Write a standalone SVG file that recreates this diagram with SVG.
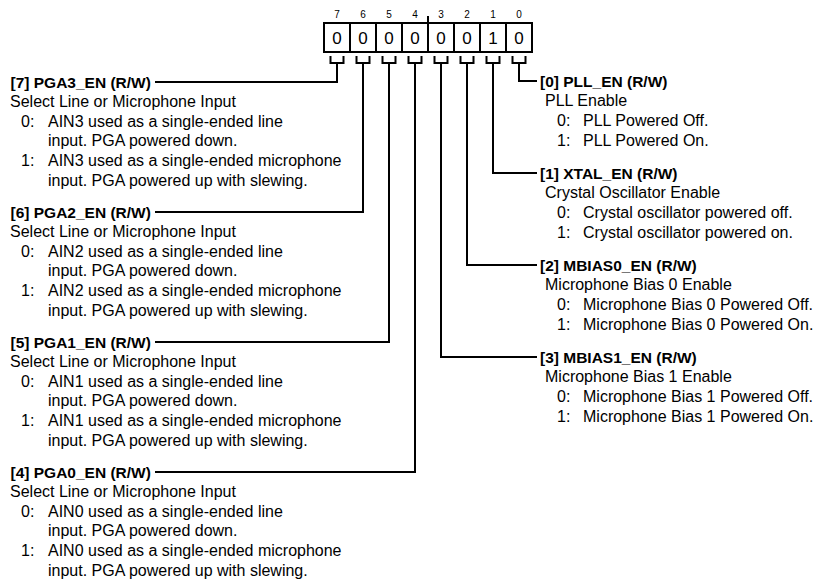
<svg xmlns="http://www.w3.org/2000/svg" width="819" height="584" viewBox="0 0 819 584">
<style>
  text { font-family: "Liberation Sans", Arial, sans-serif; fill: #000; }
  .bit { font-size: 10px; text-anchor: middle; }
  .val { font-size: 17px; text-anchor: middle; }
  .hd { font-size: 15.5px; font-weight: bold; }
  .tx { font-size: 16px; }
  .box { fill: #fff; stroke: #000; stroke-width: 2; }
  .ln { fill: none; stroke: #000; stroke-width: 2; }
</style>
<rect width="819" height="584" fill="#fff"/>

<g id="register">
  <text class="bit" x="337" y="18">7</text>
  <text class="bit" x="363" y="18">6</text>
  <text class="bit" x="389" y="18">5</text>
  <text class="bit" x="415" y="18">4</text>
  <text class="bit" x="441" y="18">3</text>
  <text class="bit" x="467" y="18">2</text>
  <text class="bit" x="493" y="18">1</text>
  <text class="bit" x="519" y="18">0</text>
  <line class="ln" x1="428" y1="16" x2="428" y2="23"/>
  <rect class="box" x="324" y="23" width="26" height="29"/>
  <rect class="box" x="350" y="23" width="26" height="29"/>
  <rect class="box" x="376" y="23" width="26" height="29"/>
  <rect class="box" x="402" y="23" width="26" height="29"/>
  <rect class="box" x="428" y="23" width="26" height="29"/>
  <rect class="box" x="454" y="23" width="26" height="29"/>
  <rect class="box" x="480" y="23" width="26" height="29"/>
  <rect class="box" x="506" y="23" width="26" height="29"/>
  <text class="val" x="337" y="44">0</text>
  <text class="val" x="363" y="44">0</text>
  <text class="val" x="389" y="44">0</text>
  <text class="val" x="415" y="44">0</text>
  <text class="val" x="441" y="44">0</text>
  <text class="val" x="467" y="44">0</text>
  <text class="val" x="493" y="44">1</text>
  <text class="val" x="519" y="44">0</text>
  <path class="ln" d="M330.5 56V63H343.5V56M356.5 56V63H369.5V56M382.5 56V63H395.5V56M408.5 56V63H421.5V56M434.5 56V63H447.5V56M460.5 56V63H473.5V56M486.5 56V63H499.5V56M512.5 56V63H525.5V56"/>
</g>

<g id="connectors">
  <path class="ln" d="M337 63V82H155"/>
  <path class="ln" d="M363 63V212H155"/>
  <path class="ln" d="M389 63V342H155"/>
  <path class="ln" d="M415 63V472H155"/>
  <path class="ln" d="M441 63V357H537"/>
  <path class="ln" d="M467 63V265H537"/>
  <path class="ln" d="M493 63V173H537"/>
  <path class="ln" d="M519 63V81H537"/>
</g>

<g id="field7">
  <text class="hd" x="10.5" y="87.5">[7] PGA3_EN (R/W)</text>
  <text class="tx" x="10" y="107.1">Select Line or Microphone Input</text>
  <text class="tx" x="21" y="126.7">0:</text>
  <text class="tx" x="48" y="126.7">AIN3 used as a single-ended line</text>
  <text class="tx" x="48" y="146.3">input. PGA powered down.</text>
  <text class="tx" x="21" y="165.9">1:</text>
  <text class="tx" x="48" y="165.9">AIN3 used as a single-ended microphone</text>
  <text class="tx" x="48" y="185.5">input. PGA powered up with slewing.</text>
</g>

<g id="field6">
  <text class="hd" x="10.5" y="217.5">[6] PGA2_EN (R/W)</text>
  <text class="tx" x="10" y="237.1">Select Line or Microphone Input</text>
  <text class="tx" x="21" y="256.7">0:</text>
  <text class="tx" x="48" y="256.7">AIN2 used as a single-ended line</text>
  <text class="tx" x="48" y="276.3">input. PGA powered down.</text>
  <text class="tx" x="21" y="295.9">1:</text>
  <text class="tx" x="48" y="295.9">AIN2 used as a single-ended microphone</text>
  <text class="tx" x="48" y="315.5">input. PGA powered up with slewing.</text>
</g>

<g id="field5">
  <text class="hd" x="10.5" y="347.5">[5] PGA1_EN (R/W)</text>
  <text class="tx" x="10" y="367.1">Select Line or Microphone Input</text>
  <text class="tx" x="21" y="386.7">0:</text>
  <text class="tx" x="48" y="386.7">AIN1 used as a single-ended line</text>
  <text class="tx" x="48" y="406.3">input. PGA powered down.</text>
  <text class="tx" x="21" y="425.9">1:</text>
  <text class="tx" x="48" y="425.9">AIN1 used as a single-ended microphone</text>
  <text class="tx" x="48" y="445.5">input. PGA powered up with slewing.</text>
</g>

<g id="field4">
  <text class="hd" x="10.5" y="477.5">[4] PGA0_EN (R/W)</text>
  <text class="tx" x="10" y="497.1">Select Line or Microphone Input</text>
  <text class="tx" x="21" y="516.7">0:</text>
  <text class="tx" x="48" y="516.7">AIN0 used as a single-ended line</text>
  <text class="tx" x="48" y="536.3">input. PGA powered down.</text>
  <text class="tx" x="21" y="555.9">1:</text>
  <text class="tx" x="48" y="555.9">AIN0 used as a single-ended microphone</text>
  <text class="tx" x="48" y="575.5">input. PGA powered up with slewing.</text>
</g>

<g id="field0">
  <text class="hd" x="540" y="86.5">[0] PLL_EN (R/W)</text>
  <text class="tx" x="545" y="106.3">PLL Enable</text>
  <text class="tx" x="557" y="126.1">0:</text>
  <text class="tx" x="583" y="126.1">PLL Powered Off.</text>
  <text class="tx" x="557" y="145.9">1:</text>
  <text class="tx" x="583" y="145.9">PLL Powered On.</text>
</g>

<g id="field1">
  <text class="hd" x="540" y="178.5">[1] XTAL_EN (R/W)</text>
  <text class="tx" x="545" y="198.3">Crystal Oscillator Enable</text>
  <text class="tx" x="557" y="218.1">0:</text>
  <text class="tx" x="583" y="218.1">Crystal oscillator powered off.</text>
  <text class="tx" x="557" y="237.9">1:</text>
  <text class="tx" x="583" y="237.9">Crystal oscillator powered on.</text>
</g>

<g id="field2">
  <text class="hd" x="540" y="270.5">[2] MBIAS0_EN (R/W)</text>
  <text class="tx" x="545" y="290.3">Microphone Bias 0 Enable</text>
  <text class="tx" x="557" y="310.1">0:</text>
  <text class="tx" x="583" y="310.1">Microphone Bias 0 Powered Off.</text>
  <text class="tx" x="557" y="329.9">1:</text>
  <text class="tx" x="583" y="329.9">Microphone Bias 0 Powered On.</text>
</g>

<g id="field3">
  <text class="hd" x="540" y="362.5">[3] MBIAS1_EN (R/W)</text>
  <text class="tx" x="545" y="382.3">Microphone Bias 1 Enable</text>
  <text class="tx" x="557" y="402.1">0:</text>
  <text class="tx" x="583" y="402.1">Microphone Bias 1 Powered Off.</text>
  <text class="tx" x="557" y="421.9">1:</text>
  <text class="tx" x="583" y="421.9">Microphone Bias 1 Powered On.</text>
</g>
</svg>
